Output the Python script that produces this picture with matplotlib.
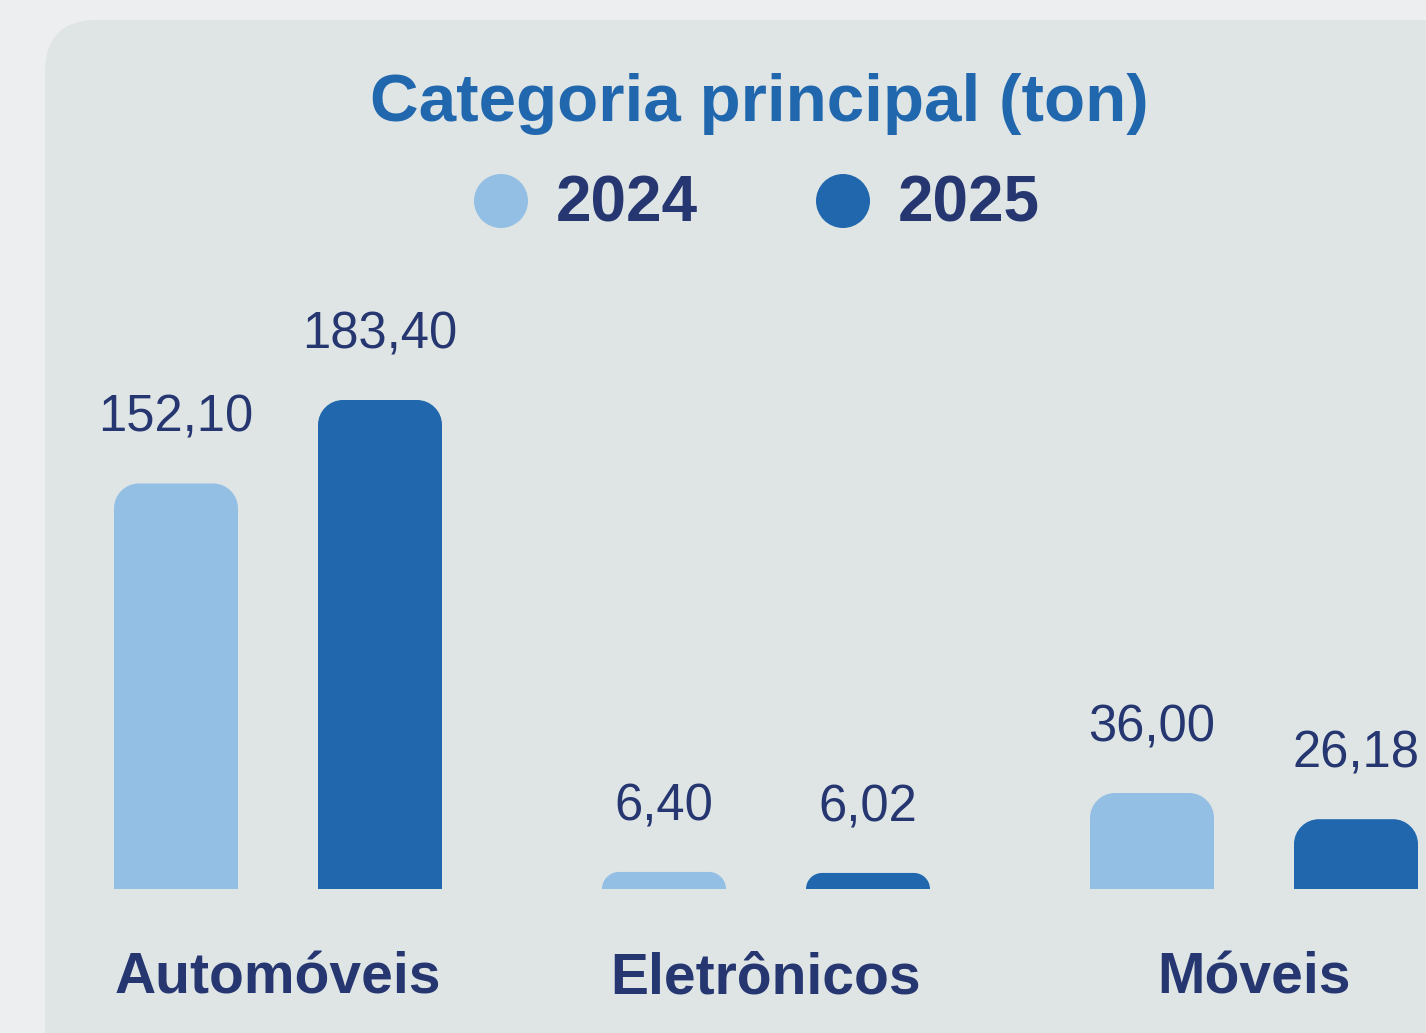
import matplotlib.pyplot as plt
import numpy as np
from matplotlib.patches import FancyBboxPatch, Circle, PathPatch
from matplotlib.path import Path

categories = ["Automóveis", "Eletrônicos", "Móveis"]
years = ["2024", "2025"]
values_2024 = [152.10, 6.40, 36.00]
values_2025 = [183.40, 6.02, 26.18]

light = "#92bfe3"
dark = "#2167ad"
navy = "#253670"
title_blue = "#2167ae"

W, H = 1426, 1033
fig = plt.figure(figsize=(W / 100, H / 100), dpi=100)
fig.patch.set_facecolor("#eceef0")

# background axes in pixel units for the card, title and legend
bg = fig.add_axes([0, 0, 1, 1])
bg.set_xlim(0, W)
bg.set_ylim(H, 0)
bg.axis("off")
bg.add_patch(FancyBboxPatch((45, 20), 1600, 1300,
                            boxstyle="round,pad=0,rounding_size=52",
                            facecolor="#dfe5e5", edgecolor="none"))

bg.text(759, 104, "Categoria principal (ton)", color=title_blue,
        fontsize=48.5, fontweight="bold", family="Liberation Sans",
        ha="center", va="center")

for cx, col, lab in [(501, light, years[0]), (843, dark, years[1])]:
    bg.add_patch(Circle((cx, 201), 27, facecolor=col, edgecolor="none"))
    bg.text(cx + 55, 205, lab, color=navy, fontsize=46, fontweight="bold",
            family="Liberation Sans", ha="left", va="center")

# bar axes: one x unit = 488 px, baseline at y=889 px
px_per_unit = 488
x0_px = 278
base_px = 889
top_px = 400
ax = fig.add_axes([0, (H - base_px) / H, 1, (base_px - top_px) / H])
ax.set_xlim(-x0_px / px_per_unit, (W - x0_px) / px_per_unit)
ax.set_ylim(0, max(values_2025))
ax.axis("off")
ax.patch.set_alpha(0)

x = np.arange(len(categories))
offset = 102 / px_per_unit
width = 124 / px_per_unit
bars_a = ax.bar(x - offset, values_2024, width, color=light)
bars_b = ax.bar(x + offset, values_2025, width, color=dark)

units_per_px_y = max(values_2025) / (base_px - top_px)
units_per_px_x = 1 / px_per_unit


def round_top(rect, r_px=25):
    # swap a plain bar for one with rounded top corners
    bx, by = rect.get_x(), rect.get_y()
    bw, bh = rect.get_width(), rect.get_height()
    h_px = bh / units_per_px_y
    r = min(r_px, h_px)
    rx = r * units_per_px_x
    ry = r * units_per_px_y
    k = 0.5523
    verts = [(bx, by), (bx, by + bh - ry),
             (bx, by + bh - ry + k * ry), (bx + rx - k * rx, by + bh), (bx + rx, by + bh),
             (bx + bw - rx, by + bh),
             (bx + bw - rx + k * rx, by + bh), (bx + bw, by + bh - ry + k * ry), (bx + bw, by + bh - ry),
             (bx + bw, by), (bx, by)]
    codes = [Path.MOVETO, Path.LINETO,
             Path.CURVE4, Path.CURVE4, Path.CURVE4,
             Path.LINETO,
             Path.CURVE4, Path.CURVE4, Path.CURVE4,
             Path.LINETO, Path.CLOSEPOLY]
    ax.add_patch(PathPatch(Path(verts, codes), facecolor=rect.get_facecolor(),
                           edgecolor="none", clip_on=False))
    rect.set_visible(False)


for bars, vals in [(bars_a, values_2024), (bars_b, values_2025)]:
    for rect, v in zip(bars, vals):
        round_top(rect)
        ax.annotate(f"{v:.2f}".replace(".", ","),
                    (rect.get_x() + rect.get_width() / 2, v),
                    xytext=(0, 65), textcoords="offset pixels",
                    ha="center", va="center", color=navy, fontsize=36.5,
                    family="Liberation Sans", annotation_clip=False)

for i, cat in enumerate(categories):
    ax.annotate(cat, (i, 0), xytext=(0, -89), textcoords="offset pixels",
                ha="center", va="center", color=navy, fontsize=41,
                fontweight="bold", family="Liberation Sans",
                annotation_clip=False)

fig.savefig("out.png", dpi=100, facecolor=fig.get_facecolor())
